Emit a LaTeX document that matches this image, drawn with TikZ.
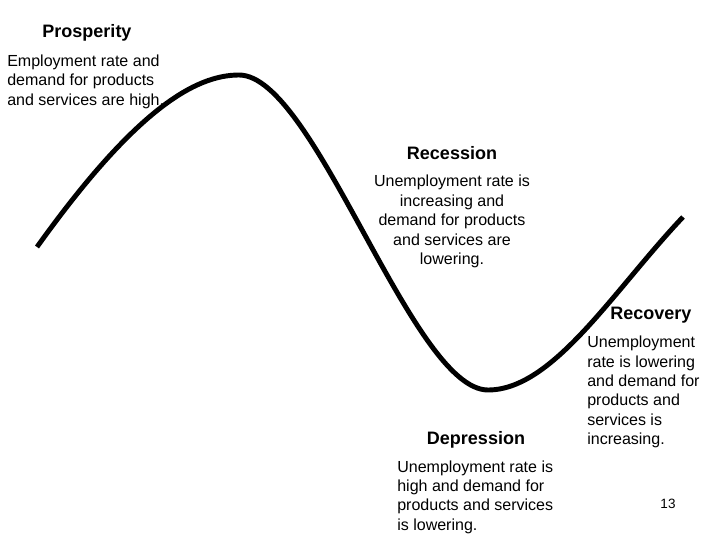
\documentclass[tikz,border=0pt]{standalone}
\usepackage{fontspec}
\setmainfont{Liberation Sans}
\usetikzlibrary{positioning}

\begin{document}
\begin{tikzpicture}[
    phase/.style={font=\fontsize{12.8}{15}\selectfont\bfseries, inner sep=0pt},
    note/.style={font=\fontsize{11.4}{13.8}\selectfont, inner sep=0pt},
    cycle/.style={line width=3.5pt, line join=round}
]
\useasboundingbox (0,0) rectangle (18,13.5);

% business cycle curve
\draw[cycle] (0.925,7.325)
    .. controls (3.375,10.75) and (4.875,11.625) .. (5.975,11.625)
    .. controls (7.875,11.625) and (10.3,3.75) .. (12.2,3.75)
    .. controls (13.825,3.75) and (15.325,6.225) .. (17.075,8.075);

\node[phase] (prosperity) at (2.175,12.675) {Prosperity};
\node[note, anchor=west, align=left] (prosperitytext) at (0.175,11.46)
    {Employment rate and\\demand for products\\and services are high.};

\node[phase] (recession) at (11.3,9.675) {Recession};
\node[note, align=center] (recessiontext) at (11.3,7.96)
    {Unemployment rate is\\increasing and\\demand for products\\and services are\\lowering.};

\node[phase] (depression) at (11.9,2.5) {Depression};
\node[note, anchor=west, align=left] (depressiontext) at (9.925,1.075)
    {Unemployment rate is\\high and demand for\\products and services\\is lowering.};

\node[phase] (recovery) at (16.275,5.625) {Recovery};
\node[note, anchor=west, align=left] (recoverytext) at (14.675,3.7)
    {Unemployment\\rate is lowering\\and demand for\\products and\\services is\\increasing.};

\node[font=\fontsize{9.6}{11}\selectfont, inner sep=0pt] (pagenum) at (16.7,0.9) {13};

\end{tikzpicture}
\end{document}
